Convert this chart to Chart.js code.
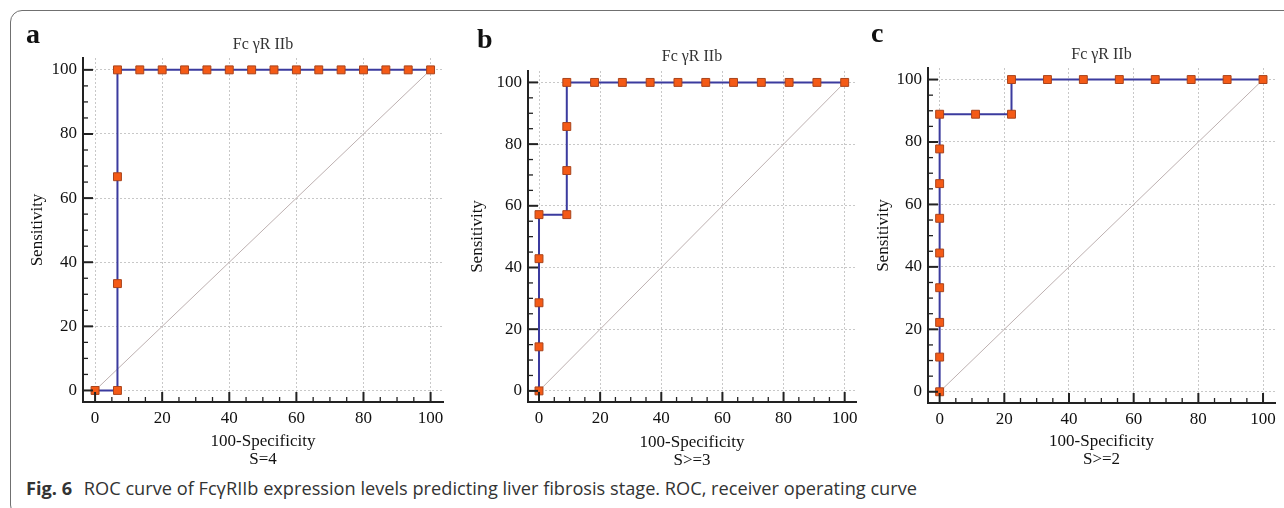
<!DOCTYPE html>
<html>
<head>
<meta charset="utf-8">
<script src="https://cdn.jsdelivr.net/npm/chart.js@4.4.1/dist/chart.umd.min.js"></script>
<style>
  body { margin: 0; width: 1284px; height: 508px; overflow: hidden; background: #fff; position: relative; }
  .frame { position: absolute; left: 10px; top: 10px; width: 1300px; height: 505px; border: 1.5px solid #707070; border-radius: 12px; }
  canvas { position: absolute; top: 0; }
  .letter { position: absolute; font: bold 28px "Liberation Serif", "Times New Roman", serif; line-height: 28px; color: #111; }
  .caption { position: absolute; left: 26px; top: 476px; font: 18.2px "Open Sans", sans-serif; color: #333; white-space: nowrap; }
  .caption b { font-weight: 700; margin-right: 7px; }
</style>
</head>
<body>
<div class="frame"></div>
<canvas id="chartA" width="460" height="470" style="left:0px"></canvas>
<canvas id="chartB" width="410" height="470" style="left:460px"></canvas>
<canvas id="chartC" width="414" height="470" style="left:870px"></canvas>
<div class="letter" style="left:26px; top:20px">a</div>
<div class="letter" style="left:477px; top:25px">b</div>
<div class="letter" style="left:871px; top:19px">c</div>
<div class="caption"><b>Fig. 6</b> ROC curve of FcγRIIb expression levels predicting liver fibrosis stage. ROC, receiver operating curve</div>

<script>
// tick labels shared by both axes
const tickValues = [0, 20, 40, 60, 80, 100];

const chartTitle = "Fc γR IIb";
const yTitle = "Sensitivity";

// panel a, S=4
const fprA = [0, 6.67, 6.67, 6.67, 6.67, 13.33, 20, 26.67, 33.33, 40, 46.67, 53.33, 60, 66.67, 73.33, 80, 86.67, 93.33, 100];
const sensA = [0, 0, 33.33, 66.67, 100, 100, 100, 100, 100, 100, 100, 100, 100, 100, 100, 100, 100, 100, 100];

// panel b, S>=3
const fprB = [0, 0, 0, 0, 0, 9.09, 9.09, 9.09, 9.09, 18.18, 27.27, 36.36, 45.45, 54.55, 63.64, 72.73, 81.82, 90.91, 100];
const sensB = [0, 14.29, 28.57, 42.86, 57.14, 57.14, 71.43, 85.71, 100, 100, 100, 100, 100, 100, 100, 100, 100, 100, 100];

// panel c, S>=2
const fprC = [0, 0, 0, 0, 0, 0, 0, 0, 0, 11.11, 22.22, 22.22, 33.33, 44.44, 55.56, 66.67, 77.78, 88.89, 100];
const sensC = [0, 11.11, 22.22, 33.33, 44.44, 55.56, 66.67, 77.78, 88.89, 88.89, 88.89, 100, 100, 100, 100, 100, 100, 100, 100];

// reference diagonal
const diagX = [0, 100];
const diagY = [0, 100];

const serif = '"Liberation Serif", "Times New Roman", serif';

// small inward tick marks like the original software draws
const innerTicks = {
  id: "innerTicks",
  afterDraw(chart) {
    const ctx = chart.ctx;
    const area = chart.chartArea;
    const xs = chart.scales.x;
    const ys = chart.scales.y;
    ctx.save();
    ctx.strokeStyle = "#222";
    for (let v = 0; v <= 100; v += 5) {
      let major = v % 20 === 0;
      let len = major ? 10 : 5;
      ctx.lineWidth = major ? 2 : 1.3;
      let px = xs.getPixelForValue(v);
      ctx.beginPath();
      ctx.moveTo(px, area.bottom);
      ctx.lineTo(px, area.bottom - len);
      ctx.stroke();
      let py = ys.getPixelForValue(v);
      ctx.beginPath();
      ctx.moveTo(area.left, py);
      ctx.lineTo(area.left + len, py);
      ctx.stroke();
    }
    ctx.restore();
  }
};

function toPoints(xs, ys) {
  return xs.map((x, i) => ({ x: x, y: ys[i] }));
}

function axis(fixSize, title, titlePad) {
  return {
    type: "linear",
    min: -3.6,
    max: 103.7,
    afterBuildTicks: s => { s.ticks = tickValues.map(v => ({ value: v })); },
    afterFit: fixSize,
    grid: { color: "#c8c8c8", lineWidth: 1, drawTicks: false },
    border: { display: true, color: "#222", width: 2, dash: [2, 2] },
    ticks: { color: "#111", padding: 6, font: { family: serif, size: 17 } },
    title: { display: true, text: title, color: "#111", padding: titlePad, font: { family: serif, size: 17, lineHeight: 1.08 } }
  };
}

function makeChart(id, xs, ys, xLabel, lay) {
  new Chart(document.getElementById(id), {
    type: "scatter",
    data: {
      datasets: [
        {
          data: toPoints(xs, ys),
          showLine: true,
          borderColor: "#3b3b9e",
          borderWidth: 2,
          pointStyle: "rect",
          pointRadius: 5.6,
          pointBackgroundColor: "#f45a16",
          pointBorderColor: "#a9441c",
          pointBorderWidth: 1
        },
        {
          data: toPoints(diagX, diagY),
          showLine: true,
          borderColor: "#bdb0b0",
          borderWidth: 1,
          pointRadius: 0
        }
      ]
    },
    options: {
      responsive: false,
      animation: false,
      devicePixelRatio: 1,
      layout: { padding: { left: 0, top: 0, right: lay.right, bottom: 0 } },
      plugins: {
        legend: { display: false },
        tooltip: { enabled: false },
        title: {
          display: true,
          fullSize: false,
          text: chartTitle,
          color: "#333",
          font: { family: serif, size: 16, weight: "normal", lineHeight: 1.2 },
          padding: { top: lay.titleTop, bottom: lay.titleBottom }
        }
      },
      scales: {
        x: axis(s => { s.height = lay.xHeight; }, xLabel, { top: 0, bottom: lay.xTitlePad }),
        y: axis(s => { s.width = lay.yWidth; }, yTitle, { top: lay.yTitlePad, bottom: 0 })
      }
    },
    plugins: [innerTicks]
  });
}

makeChart("chartA", fprA, sensA, ["100-Specificity", "S=4"],
  { right: 17, titleTop: 35.4, titleBottom: 3.4, xHeight: 68, yWidth: 83, xTitlePad: 0.8, yTitlePad: 28.8 });
makeChart("chartB", fprB, sensB, ["100-Specificity", "S>=3"],
  { right: 14, titleTop: 47.4, titleBottom: 4.4, xHeight: 68, yWidth: 68, xTitlePad: 0, yTitlePad: 8.8 });
makeChart("chartC", fprC, sensC, ["100-Specificity", "S>=2"],
  { right: 9, titleTop: 45.4, titleBottom: 3.4, xHeight: 67, yWidth: 58, xTitlePad: 1.4, yTitlePad: 4.8 });
</script>
</body>
</html>
